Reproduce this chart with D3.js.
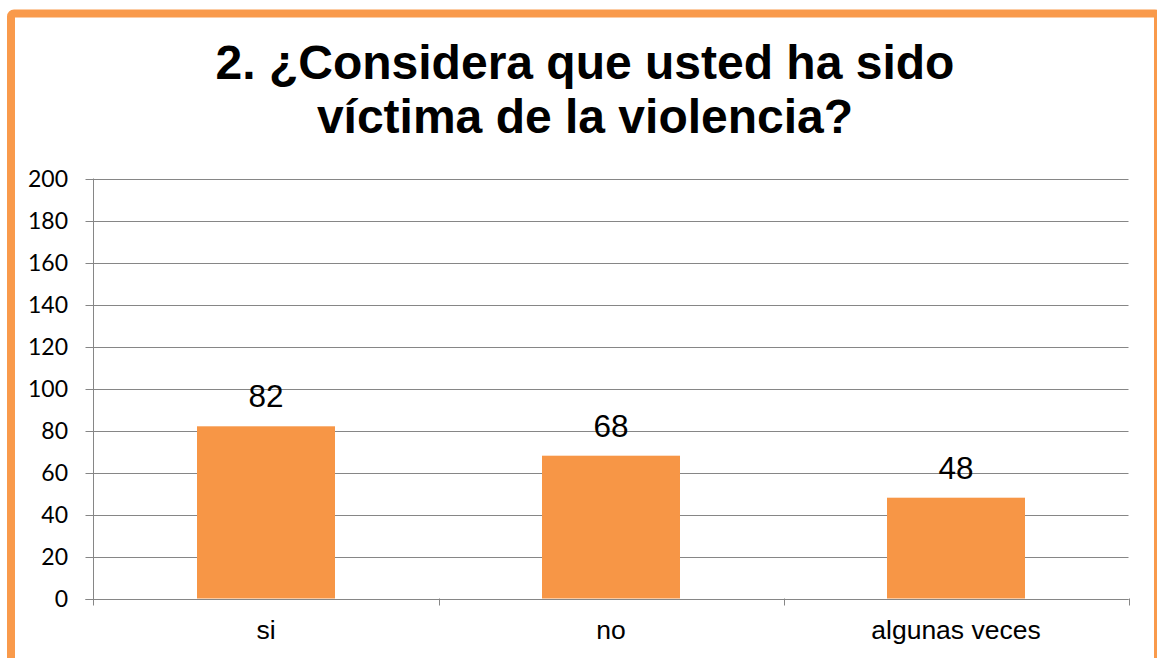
<!DOCTYPE html>
<html>
<head>
<meta charset="utf-8">
<script src="https://cdn.jsdelivr.net/npm/d3@7"></script>
<style>
  html, body { margin: 0; padding: 0; background: #fff; }
  svg { display: block; }
</style>
</head>
<body>
<div id="chart"></div>
<script>
const categories = ['si', 'no', 'algunas veces'];
const values = [82, 68, 48];
const yTicks = [0, 20, 40, 60, 80, 100, 120, 140, 160, 180, 200];
const titleLines = ['2. ¿Considera que usted ha sido', 'víctima de la violencia?'];

const width = 1157, height = 658;
const margin = { top: 178.5, right: 28.5, bottom: 59.5, left: 93.5 };
const orange = '#F79646';
const grey = '#868686';

const svg = d3.select('#chart').append('svg').attr('width', width).attr('height', height);

// frame around the chart
svg.append('rect')
  .attr('x', 11).attr('y', 13.5)
  .attr('width', 1147).attr('height', 700)
  .attr('rx', 3)
  .attr('fill', '#fff')
  .attr('stroke', '#F99A4B')
  .attr('stroke-width', 8);

// title
svg.append('text')
  .attr('x', 585).attr('y', 79)
  .attr('text-anchor', 'middle')
  .style('font-family', 'Liberation Sans, Arial, sans-serif')
  .style('font-weight', 'bold')
  .style('font-size', '48px')
  .selectAll('tspan').data(titleLines).enter().append('tspan')
  .attr('x', 585)
  .attr('dy', (d, i) => i === 0 ? 0 : 54)
  .text(d => d);

const x = d3.scaleBand().domain(categories)
  .range([margin.left, width - margin.right])
  .paddingInner(0.6).paddingOuter(0.3);
const y = d3.scaleLinear().domain([0, 200]).range([height - margin.bottom, margin.top]);

// gridlines
svg.append('g').selectAll('line').data(yTicks).enter().append('line')
  .attr('x1', margin.left - 8).attr('x2', width - margin.right)
  .attr('y1', d => Math.round(y(d)) + 0.5).attr('y2', d => Math.round(y(d)) + 0.5)
  .attr('stroke', grey).attr('stroke-width', 1);

// y axis line
svg.append('line')
  .attr('x1', margin.left).attr('x2', margin.left)
  .attr('y1', margin.top).attr('y2', height - margin.bottom + 7)
  .attr('stroke', grey);

// category dividers on the x axis
const step = x.step();
const dividers = categories.map((c, i) => margin.left + step * (i + 1));
svg.append('g').selectAll('line').data(dividers).enter().append('line')
  .attr('x1', d => Math.round(d) + 0.5).attr('x2', d => Math.round(d) + 0.5)
  .attr('y1', y(0)).attr('y2', y(0) + 7)
  .attr('stroke', grey);

// y tick labels
svg.append('g').selectAll('text').data(yTicks).enter().append('text')
  .attr('x', 68).attr('y', d => y(d) + 8.5)
  .attr('text-anchor', 'end')
  .style('font-family', 'Lato, sans-serif')
  .style('font-size', '23px')
  .text(d => d);

// bars
svg.append('g').selectAll('rect').data(values).enter().append('rect')
  .attr('x', (d, i) => x(categories[i]))
  .attr('y', d => y(d))
  .attr('width', x.bandwidth())
  .attr('height', d => y(0) - y(d))
  .attr('fill', orange);

// redraw zero line over bars
svg.append('line')
  .attr('x1', margin.left - 8).attr('x2', width - margin.right)
  .attr('y1', Math.round(y(0)) + 0.5).attr('y2', Math.round(y(0)) + 0.5)
  .attr('stroke', grey);

// value labels
svg.append('g').selectAll('text').data(values).enter().append('text')
  .attr('x', (d, i) => x(categories[i]) + x.bandwidth() / 2)
  .attr('y', d => y(d) - 19)
  .attr('text-anchor', 'middle')
  .style('font-family', 'Liberation Sans, Arial, sans-serif')
  .style('font-size', '31.5px')
  .text(d => d);

// category labels
svg.append('g').selectAll('text').data(categories).enter().append('text')
  .attr('x', d => x(d) + x.bandwidth() / 2)
  .attr('y', 639)
  .attr('text-anchor', 'middle')
  .style('font-family', 'Liberation Sans, Arial, sans-serif')
  .style('font-size', '26.5px')
  .text(d => d);
</script>
</body>
</html>
